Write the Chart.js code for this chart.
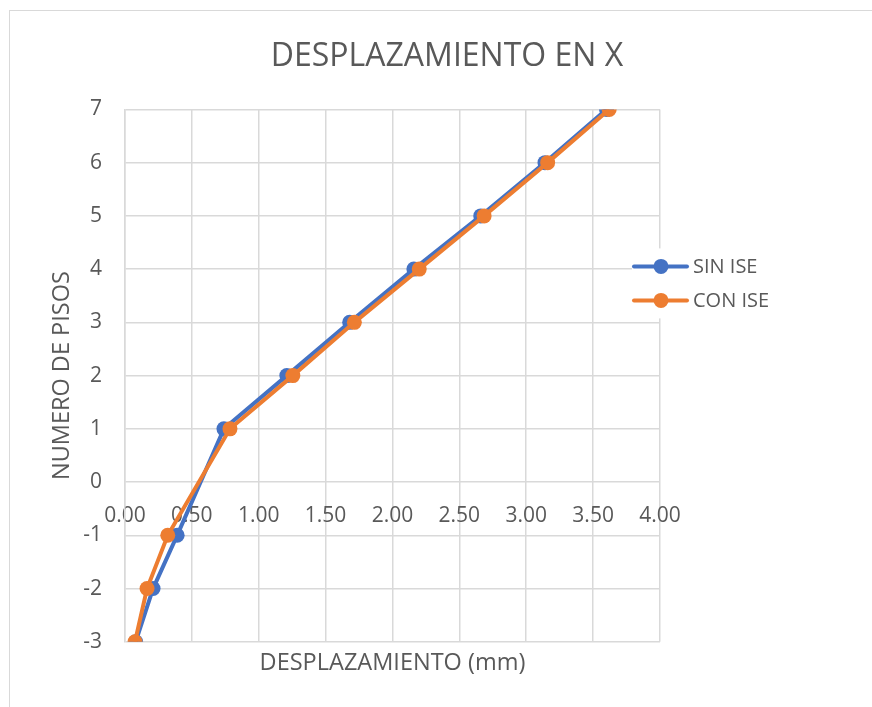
<!DOCTYPE html>
<html>
<head>
<meta charset="utf-8">
<script src="https://cdn.jsdelivr.net/npm/chart.js@4.4.1/dist/chart.umd.min.js"></script>
<style>
  html, body { margin: 0; padding: 0; background: #ffffff; overflow: hidden; }
  #wrap { position: relative; width: 872px; height: 707px; overflow: hidden; }
  #frame { position: absolute; left: 9px; top: 10px; width: 900px; height: 900px;
           border: 1px solid #d9d9d9; box-sizing: border-box; pointer-events: none; }
  canvas { position: absolute; left: 0; top: 0; }
</style>
</head>
<body>
<div id="wrap">
  <canvas id="chart" width="872" height="707"></canvas>
  <div id="frame"></div>
</div>
<script>
// Storey numbers (floors below ground are negative)
const floors = [-3, -2, -1, 1, 2, 3, 4, 5, 6, 7];
// Lateral displacement in X (mm) per storey
const sinIse = [0.08, 0.21, 0.39, 0.74, 1.21, 1.68, 2.16, 2.66, 3.14, 3.60];
const conIse = [0.075, 0.165, 0.32, 0.785, 1.255, 1.715, 2.20, 2.685, 3.16, 3.62];
const seriesNames = ['SIN ISE', 'CON ISE'];
const seriesColors = ['#4472C4', '#ED7D31'];

const TEXT = '#595959';
const GRID = '#d9d9d9';
const FONT = "'Open Sans', 'Liberation Sans', sans-serif";

const toPoints = (xs) => xs.map((x, i) => ({ x: x, y: floors[i] }));

// Legend box placed to the right of the plot; its items sit over the plot's right edge
const sideLegend = {
  id: 'sideLegend',
  beforeInit(chart) {
    const box = {
      chart: chart,
      options: {},
      position: 'right',
      weight: 0,
      fullSize: false,
      left: 0, top: 0, right: 0, bottom: 0, width: 0, height: 0,
      isHorizontal() { return false; },
      update(maxWidth, maxHeight) { this.width = 212; this.height = maxHeight; },
      draw() {
        const ctx = chart.ctx;
        const x0 = this.left - 26;
        const y0 = this.top + 157;
        const gap = 34;
        ctx.save();
        ctx.fillStyle = '#ffffff';
        ctx.fillRect(x0 - 2, y0 - 18, 170, gap + 36);
        chart.data.datasets.forEach((ds, i) => {
          const y = y0 + i * gap;
          ctx.strokeStyle = ds.borderColor;
          ctx.lineWidth = 4;
          ctx.lineCap = 'round';
          ctx.beginPath();
          ctx.moveTo(x0, y);
          ctx.lineTo(x0 + 53, y);
          ctx.stroke();
          ctx.fillStyle = ds.pointBackgroundColor;
          ctx.beginPath();
          ctx.arc(x0 + 27, y, 7.5, 0, Math.PI * 2);
          ctx.fill();
          ctx.fillStyle = TEXT;
          ctx.font = "20px " + FONT;
          ctx.textBaseline = 'middle';
          ctx.textAlign = 'left';
          ctx.fillText(ds.label, x0 + 59, y + 1);
        });
        ctx.restore();
      }
    };
    Chart.layouts.addBox(chart, box);
  }
};

const datasets = [sinIse, conIse].map((vals, i) => ({
  label: seriesNames[i],
  data: toPoints(vals),
  borderColor: seriesColors[i],
  backgroundColor: seriesColors[i],
  pointBackgroundColor: seriesColors[i],
  pointBorderColor: seriesColors[i],
  borderWidth: 4,
  pointRadius: 7.5,
  pointBorderWidth: 0,
  showLine: true,
  tension: 0,
  order: i === 0 ? 1 : 0
}));

new Chart(document.getElementById('chart'), {
  type: 'line',
  data: { datasets: datasets },
  plugins: [sideLegend],
  options: {
    responsive: false,
    animation: false,
    layout: { padding: { left: 22, right: 0, top: 0, bottom: 30 } },
    plugins: {
      legend: { display: false },
      tooltip: { enabled: false },
      title: {
        display: true,
        text: 'DESPLAZAMIENTO EN X',
        color: TEXT,
        font: { family: FONT, size: 32, weight: 'normal', lineHeight: 1.2 },
        padding: { top: 38, bottom: 33 }
      }
    },
    scales: {
      x: {
        type: 'linear',
        position: { y: 0 },
        min: 0, max: 4,
        grid: { color: GRID, lineWidth: 1.5, drawTicks: false },
        border: { display: false },
        ticks: {
          stepSize: 0.5,
          color: TEXT,
          padding: 21,
          font: { family: FONT, size: 21 },
          callback: (v) => Number(v).toFixed(2)
        }
      },
      xTitle: {
        type: 'linear',
        position: 'bottom',
        min: 0, max: 4,
        grid: { display: false, drawTicks: false },
        border: { display: false },
        ticks: { display: false },
        title: {
          display: true,
          text: 'DESPLAZAMIENTO (mm)',
          color: TEXT,
          font: { family: FONT, size: 23.5, lineHeight: 1.2 },
          padding: { top: 7, bottom: 0 }
        }
      },
      y: {
        type: 'linear',
        position: 'left',
        min: -3, max: 7,
        grid: { color: GRID, lineWidth: 1.5, drawTicks: true, tickLength: 17, tickColor: 'rgba(0,0,0,0)' },
        border: { color: GRID, width: 1.5 },
        ticks: {
          stepSize: 1,
          color: TEXT,
          padding: 6,
          font: { family: FONT, size: 21 }
        },
        title: {
          display: true,
          text: 'NUMERO DE PISOS',
          color: TEXT,
          font: { family: FONT, size: 23.5, lineHeight: 1.2 },
          padding: { top: 26, bottom: 1 }
        }
      }
    }
  }
});
</script>
</body>
</html>
